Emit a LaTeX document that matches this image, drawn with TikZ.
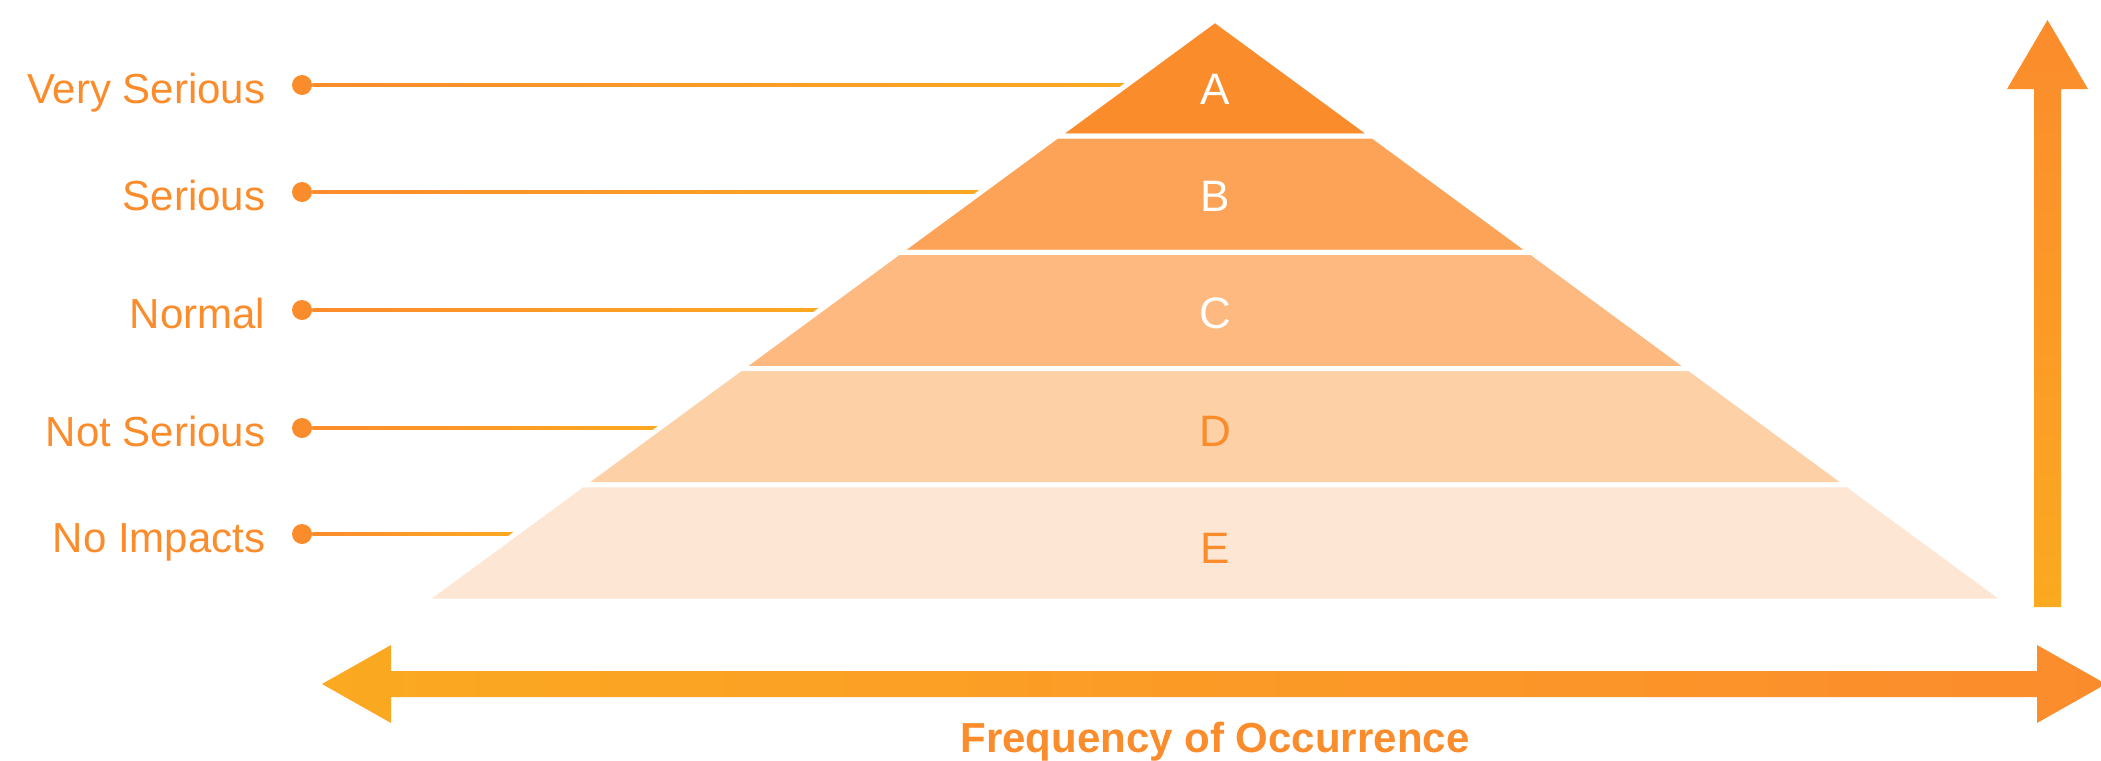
\documentclass[tikz,border=0pt]{standalone}
\usepackage{fontspec}
\setmainfont{Liberation Sans}
\usetikzlibrary{positioning,calc}

\definecolor{orA}{HTML}{FB8C2C}
\definecolor{orB}{HTML}{FDA357}
\definecolor{orC}{HTML}{FDB97F}
\definecolor{orD}{HTML}{FDD0A6}
\definecolor{orE}{HTML}{FEE6D4}
\definecolor{yel}{HTML}{FBA921}

\begin{document}
\begin{tikzpicture}[
    x=0.5pt, y=-0.5pt,
    font=\fontsize{21pt}{25pt}\selectfont,
    tier/.style={draw=white, line width=2.5pt},
    letter/.style={inner sep=0pt, text height=15.5pt, text depth=0pt, font=\fontsize{22pt}{26pt}\selectfont},
    dot/.style={circle, fill=orA, minimum size=10pt, inner sep=0pt},
    lbl/.style={text=orA, inner sep=0pt, text height=15pt, text depth=0pt, yshift=-1.5pt},
    lead/.style={left color=orA, right color=yel}]
    \useasboundingbox (0,0) rectangle (2101,761);

    % pyramide
    \coordinate (top) at (1215,20);
    \coordinate (bl) at (424,601);
    \coordinate (br) at (2006,601);
    \coordinate (l1) at ($(top)!0.2!(bl)$);
    \coordinate (l2) at ($(top)!0.4!(bl)$);
    \coordinate (l3) at ($(top)!0.6!(bl)$);
    \coordinate (l4) at ($(top)!0.8!(bl)$);
    \coordinate (r1) at ($(top)!0.2!(br)$);
    \coordinate (r2) at ($(top)!0.4!(br)$);
    \coordinate (r3) at ($(top)!0.6!(br)$);
    \coordinate (r4) at ($(top)!0.8!(br)$);

    % stupnice zavaznosti
    \node[dot] (dA) at (302,85) {};
    \node[dot] (dB) at (302,192) {};
    \node[dot] (dC) at (302,310) {};
    \node[dot] (dD) at (302,428) {};
    \node[dot] (dE) at (302,534) {};
    \node[lbl, left=13pt of dA] (vazne) {Very Serious};
    \node[lbl, left=13pt of dB] (serious) {Serious};
    \node[lbl, left=13pt of dC] (normal) {Normal};
    \node[lbl, left=13pt of dD] (notserious) {Not Serious};
    \node[lbl, left=13pt of dE] (noimpact) {No Impacts};

    % vodici cary az k okraji pyramidy
    \coordinate (hA) at (dA -| top);
    \coordinate (hB) at (dB -| top);
    \coordinate (hC) at (dC -| top);
    \coordinate (hD) at (dD -| top);
    \coordinate (hE) at (dE -| top);
    \coordinate (eA) at (intersection of top--bl and dA.center--hA);
    \coordinate (eB) at (intersection of top--bl and dB.center--hB);
    \coordinate (eC) at (intersection of top--bl and dC.center--hC);
    \coordinate (eD) at (intersection of top--bl and dD.center--hD);
    \coordinate (eE) at (intersection of top--bl and dE.center--hE);
    \shade[lead] ($(dA.east)+(0,-1.4)$) rectangle ($(eA)+(0,1.4)$);
    \shade[lead] ($(dB.east)+(0,-1.4)$) rectangle ($(eB)+(0,1.4)$);
    \shade[lead] ($(dC.east)+(0,-1.4)$) rectangle ($(eC)+(0,1.4)$);
    \shade[lead] ($(dD.east)+(0,-1.4)$) rectangle ($(eD)+(0,1.4)$);
    \shade[lead] ($(dE.east)+(0,-1.4)$) rectangle ($(eE)+(0,1.4)$);

    % patra pyramidy
    \filldraw[tier, fill=orA] (top) -- (r1) -- (l1) -- cycle;
    \filldraw[tier, fill=orB] (l1) -- (r1) -- (r2) -- (l2) -- cycle;
    \filldraw[tier, fill=orC] (l2) -- (r2) -- (r3) -- (l3) -- cycle;
    \filldraw[tier, fill=orD] (l3) -- (r3) -- (r4) -- (l4) -- cycle;
    \filldraw[tier, fill=orE] (l4) -- (r4) -- (br) -- (bl) -- cycle;
    \node[letter, text=white] (pA) at (1215,89) {A};
    \node[letter, text=white] (pB) at (1215,196) {B};
    \node[letter, text=white] (pC) at (1215,313) {C};
    \node[letter, text=orA] (pD) at (1215,431) {D};
    \node[letter, text=orA] (pE) at (1215,548) {E};

    % osy
    \coordinate (osaL) at (322,684);
    \coordinate (osaR) at (2106,684);
    \shade[left color=yel, right color=orA] (osaL) -- ++(69,-39) -- ++(0,26) -- (2037,671) -- ++(0,-26)
        -- (osaR) -- ++(-69,39) -- ++(0,-26) -- (391,697) -- ++(0,26) -- cycle;
    \coordinate (osaT) at (2047.5,20);
    \shade[top color=orA, bottom color=yel] (osaT) -- ++(40.5,69) -- ++(-27,0) -- (2061,607) -- (2034,607)
        -- (2034,89) -- ++(-27,0) -- cycle;
    \node[text=orA, inner sep=0pt, text height=15.5pt, text depth=0pt,
        font=\fontsize{21pt}{25pt}\selectfont\bfseries] (freq) at (1215,737) {Frequency of Occurrence};
\end{tikzpicture}
\end{document}
